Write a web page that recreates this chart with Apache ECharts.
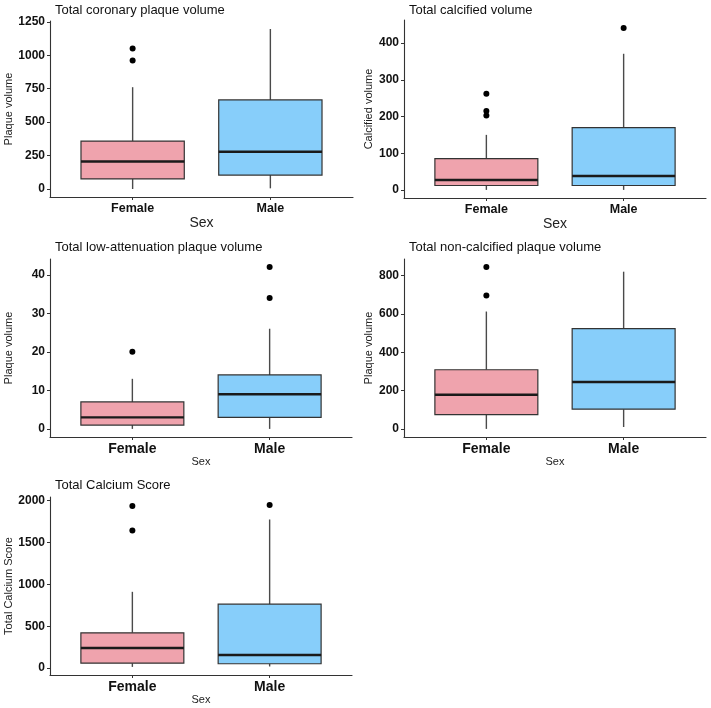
<!DOCTYPE html>
<html>
<head>
<meta charset="utf-8">
<script src="https://cdn.jsdelivr.net/npm/echarts@6/dist/echarts.min.js"></script>
<style>
html,body{margin:0;padding:0;background:#fff;}
#c{width:711px;height:708px;}
</style>
</head>
<body>
<div id="c"></div>
<script>
// ---------- data ----------
const categories = ['Female', 'Male'];
const sexLabel = 'Sex';

// [lower whisker, Q1, median, Q3, upper whisker]
const coronaryFemale = [0, 75, 206, 358, 761];
const coronaryMale = [5, 104, 278, 666, 1196];
const coronaryOutFemale = [960, 1050];
const coronaryOutMale = [];
const coronaryTicks = [0, 250, 500, 750, 1000, 1250];

const calcifiedFemale = [0, 12, 27, 85, 150];
const calcifiedMale = [0, 12, 38, 170, 371];
const calcifiedOutFemale = [203, 215, 262];
const calcifiedOutMale = [441];
const calcifiedTicks = [0, 100, 200, 300, 400];

const lowAttFemale = [0, 1, 3, 7, 13];
const lowAttMale = [0, 3, 9, 14, 26];
const lowAttOutFemale = [20];
const lowAttOutMale = [34, 42];
const lowAttTicks = [0, 10, 20, 30, 40];

const nonCalcFemale = [0, 75, 178, 309, 613];
const nonCalcMale = [10, 103, 245, 524, 821];
const nonCalcOutFemale = [697, 845];
const nonCalcOutMale = [];
const nonCalcTicks = [0, 200, 400, 600, 800];

const calciumFemale = [15, 60, 241, 422, 912];
const calciumMale = [20, 53, 157, 764, 1776];
const calciumOutFemale = [1643, 1936];
const calciumOutMale = [1948];
const calciumTicks = [0, 500, 1000, 1500, 2000];

const titles = ['Total coronary plaque volume', 'Total calcified volume',
  'Total low-attenuation plaque volume', 'Total non-calcified plaque volume', 'Total Calcium Score'];
const yNames = ['Plaque volume', 'Calcified volume', 'Plaque volume', 'Plaque volume', 'Total Calcium Score'];

// ---------- layout ----------
const FONT = '"Liberation Sans", Arial, sans-serif';
const fills = ['#EFA3AD', '#87CEFA'];
const panels = [
  {f: coronaryFemale, m: coronaryMale, of: coronaryOutFemale, om: coronaryOutMale, ticks: coronaryTicks,
   grid: {left: 50, top: 21, width: 303, height: 176}, titleTop: -1, catSize: 12.5, sexSize: 14, sexGap: 18, yGap: 35},
  {f: calcifiedFemale, m: calcifiedMale, of: calcifiedOutFemale, om: calcifiedOutMale, ticks: calcifiedTicks,
   grid: {left: 404, top: 20, width: 302, height: 178}, titleTop: -1, catSize: 12.5, sexSize: 14, sexGap: 17, yGap: 30},
  {f: lowAttFemale, m: lowAttMale, of: lowAttOutFemale, om: lowAttOutMale, ticks: lowAttTicks,
   grid: {left: 50, top: 259, width: 302, height: 178}, titleTop: 236, catSize: 14, sexSize: 11, sexGap: 17, yGap: 36},
  {f: nonCalcFemale, m: nonCalcMale, of: nonCalcOutFemale, om: nonCalcOutMale, ticks: nonCalcTicks,
   grid: {left: 404, top: 259, width: 302, height: 178}, titleTop: 236, catSize: 14, sexSize: 11, sexGap: 17, yGap: 30},
  {f: calciumFemale, m: calciumMale, of: calciumOutFemale, om: calciumOutMale, ticks: calciumTicks,
   grid: {left: 50, top: 497, width: 302, height: 178}, titleTop: 474, catSize: 14, sexSize: 11, sexGap: 18, yGap: 36}
];

const option = {
  animation: false,
  backgroundColor: '#fff',
  title: [], grid: [], xAxis: [], yAxis: [], series: []
};

function renderBox(params, api) {
  const x = api.value(0);
  const lo = api.value(1), q1 = api.value(2), med = api.value(3), q3 = api.value(4), hi = api.value(5);
  const ci = api.value(6);
  const half = api.size([0.75, 0])[0] / 2;
  const pLo = api.coord([x, lo]), pQ1 = api.coord([x, q1]), pMed = api.coord([x, med]);
  const pQ3 = api.coord([x, q3]), pHi = api.coord([x, hi]);
  const cx = pMed[0];
  return {
    type: 'group',
    children: [
      {type: 'line', shape: {x1: cx, y1: pLo[1], x2: cx, y2: pQ1[1]}, style: {stroke: '#4a4a4a', lineWidth: 1.4}},
      {type: 'line', shape: {x1: cx, y1: pQ3[1], x2: cx, y2: pHi[1]}, style: {stroke: '#4a4a4a', lineWidth: 1.4}},
      {type: 'rect', shape: {x: cx - half, y: pQ3[1], width: 2 * half, height: pQ1[1] - pQ3[1]},
       style: {fill: fills[ci], stroke: '#333', lineWidth: 1.2}},
      {type: 'line', shape: {x1: cx - half, y1: pMed[1], x2: cx + half, y2: pMed[1]}, style: {stroke: '#1a1a1a', lineWidth: 2.4}}
    ]
  };
}

panels.forEach((p, i) => {
  const all = p.f.concat(p.m, p.of, p.om);
  const dMin = Math.min.apply(null, all), dMax = Math.max.apply(null, all);
  const pad = (dMax - dMin) * 0.05;

  option.title.push({
    text: titles[i], left: p.grid.left, top: p.titleTop,
    textStyle: {fontFamily: FONT, fontSize: 13, fontWeight: 'normal', color: '#111'}
  });
  option.grid.push(Object.assign({containLabel: false}, p.grid));
  option.xAxis.push({
    gridIndex: i, type: 'value', min: 0.4, max: 2.6,
    name: sexLabel, nameLocation: 'middle', nameGap: p.sexGap,
    nameTextStyle: {fontFamily: FONT, fontSize: p.sexSize, color: '#222'},
    splitLine: {show: false},
    axisLine: {show: true, onZero: false, lineStyle: {color: '#333', width: 1.1}},
    axisTick: {show: true, length: 3, customValues: [1, 2], lineStyle: {color: '#333'}},
    axisLabel: {customValues: [1, 2], margin: 5, formatter: v => categories[Math.round(v) - 1],
      fontFamily: FONT, fontSize: p.catSize, fontWeight: 'bold', color: '#111'}
  });
  option.yAxis.push({
    gridIndex: i, type: 'value', min: dMin - pad, max: dMax + pad,
    name: yNames[i], nameLocation: 'middle', nameGap: p.yGap, nameRotate: 90,
    nameTextStyle: {fontFamily: FONT, fontSize: 11, color: '#222'},
    splitLine: {show: false},
    axisLine: {show: true, onZero: false, lineStyle: {color: '#333', width: 1.1}},
    axisTick: {show: true, length: 3, customValues: p.ticks, lineStyle: {color: '#333'}},
    axisLabel: {customValues: p.ticks, margin: 5, formatter: v => String(v),
      fontFamily: FONT, fontSize: 12, fontWeight: 'bold', color: '#111'}
  });
  option.series.push({
    type: 'custom', xAxisIndex: i, yAxisIndex: i,
    renderItem: renderBox,
    encode: {x: 0, y: [1, 2, 3, 4, 5]},
    data: [[1].concat(p.f, [0]), [2].concat(p.m, [1])]
  });
  const outs = p.of.map(v => [1, v]).concat(p.om.map(v => [2, v]));
  option.series.push({
    type: 'scatter', xAxisIndex: i, yAxisIndex: i, symbol: 'circle', symbolSize: 6,
    itemStyle: {color: '#000', opacity: 1}, data: outs
  });
});

const chart = echarts.init(document.getElementById('c'), null, {renderer: 'canvas'});
chart.setOption(option);
</script>
</body>
</html>
